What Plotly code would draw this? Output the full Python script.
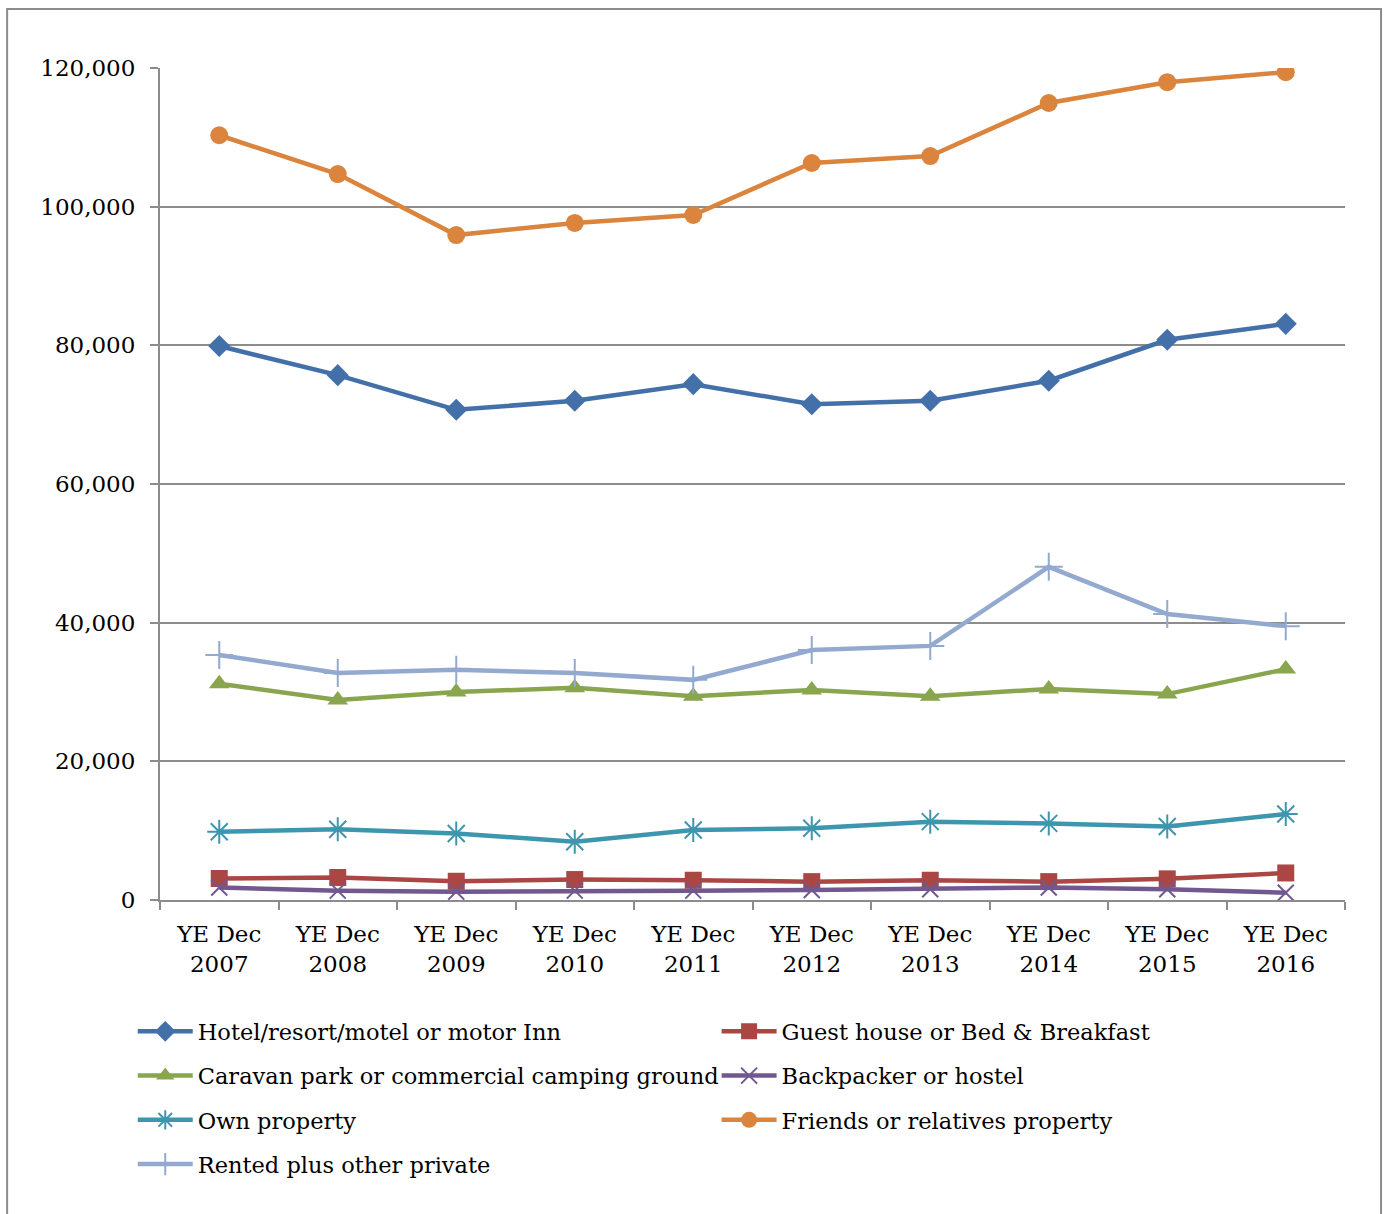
import plotly.graph_objects as go

categories = ["YE Dec<br>2007", "YE Dec<br>2008", "YE Dec<br>2009", "YE Dec<br>2010", "YE Dec<br>2011",
              "YE Dec<br>2012", "YE Dec<br>2013", "YE Dec<br>2014", "YE Dec<br>2015", "YE Dec<br>2016"]

hotel = [79900, 75700, 70700, 72000, 74400, 71500, 72000, 74900, 80800, 83100]
guest = [3100, 3250, 2700, 2950, 2850, 2650, 2850, 2650, 3050, 3900]
caravan = [31200, 28850, 30000, 30600, 29400, 30300, 29400, 30450, 29700, 33300]
backpacker = [1800, 1350, 1200, 1350, 1350, 1450, 1550, 1800, 1550, 1050]
own = [9850, 10200, 9600, 8400, 10100, 10350, 11300, 11050, 10600, 12400]
friends = [110300, 104700, 95900, 97650, 98800, 106300, 107300, 114950, 117950, 119400]
rented = [35350, 32750, 33200, 32750, 31750, 36050, 36650, 48050, 41250, 39500]

names = ["Hotel/resort/motel or motor Inn", "Guest house or Bed & Breakfast",
         "Caravan park or commercial camping ground", "Backpacker or hostel",
         "Own property", "Friends or relatives property", "Rented plus other private"]

FONT = "DejaVu Serif"
FS = 23
LFS = 22.5

# (name, values, colour, marker, legend column)
series = [
    (names[0], hotel, "#4470AA", dict(symbol="diamond", size=17), "legend"),
    (names[1], guest, "#AA4643", dict(symbol="square", size=17), "legend2"),
    (names[2], caravan, "#89A54E", dict(symbol="triangle-up", size=18), "legend"),
    (names[3], backpacker, "#71588F", dict(symbol="x-thin-open", size=16, line=dict(width=2)), "legend2"),
    (names[4], own, "#3D96AE", dict(symbol="asterisk-open", size=20, line=dict(width=2)), "legend"),
    (names[5], friends, "#DB843D", dict(symbol="circle", size=18), "legend2"),
    (names[6], rented, "#93A9CF", dict(symbol="cross-thin-open", size=20, line=dict(width=2)), "legend"),
]

fig = go.Figure()
for i, (name, vals, color, mk, leg) in enumerate(series):
    mk = dict(mk)
    mk["color"] = color
    if "line" in mk:
        mk["line"]["color"] = color
    fig.add_trace(go.Scatter(
        x=categories, y=vals, mode="lines+markers", name=name,
        legend=leg, legendgroup=f"g{i}",
        line=dict(color=color, width=4.5),
        marker=mk,
    ))

common_leg = dict(
    orientation="v", xanchor="left", yanchor="top", y=-0.1325,
    font=dict(family=FONT, size=LFS, color="black"),
    traceorder="grouped", tracegroupgap=12, itemwidth=55,
    bgcolor="rgba(0,0,0,0)",
)

fig.update_layout(
    width=1385, height=1214,
    margin=dict(l=160, r=40, t=68, b=314),
    paper_bgcolor="white", plot_bgcolor="white",
    font=dict(family=FONT, size=FS, color="black"),
    showlegend=True,
    legend=dict(common_leg, x=-0.023),
    legend2=dict(common_leg, x=0.4697),
    shapes=[dict(type="rect", xref="paper", yref="paper",
                 x0=-0.129, x1=1.0304, y0=-0.40, y1=1.071,
                 line=dict(color="#8c8c8c", width=2), fillcolor="rgba(0,0,0,0)", layer="below")],
)

fig.update_xaxes(
    type="category", range=[-0.5, 9.5],
    showgrid=False, showline=True, linecolor="#8c8c8c", linewidth=2,
    ticks="outside", tickson="boundaries", ticklen=8, tickcolor="#8c8c8c", tickwidth=2,
    tickfont=dict(family=FONT, size=FS), tickangle=0, ticklabelstandoff=12,
)
fig.update_yaxes(
    range=[0, 120000], tickvals=[0, 20000, 40000, 60000, 80000, 100000, 120000],
    tickformat=",d",
    showgrid=True, gridcolor="#8c8c8c", gridwidth=1.5,
    showline=True, linecolor="#8c8c8c", linewidth=2,
    ticks="outside", ticklen=8, tickcolor="#8c8c8c", tickwidth=2,
    tickfont=dict(family=FONT, size=FS), zeroline=False, ticklabelstandoff=10,
)

fig.write_html("out.html")
